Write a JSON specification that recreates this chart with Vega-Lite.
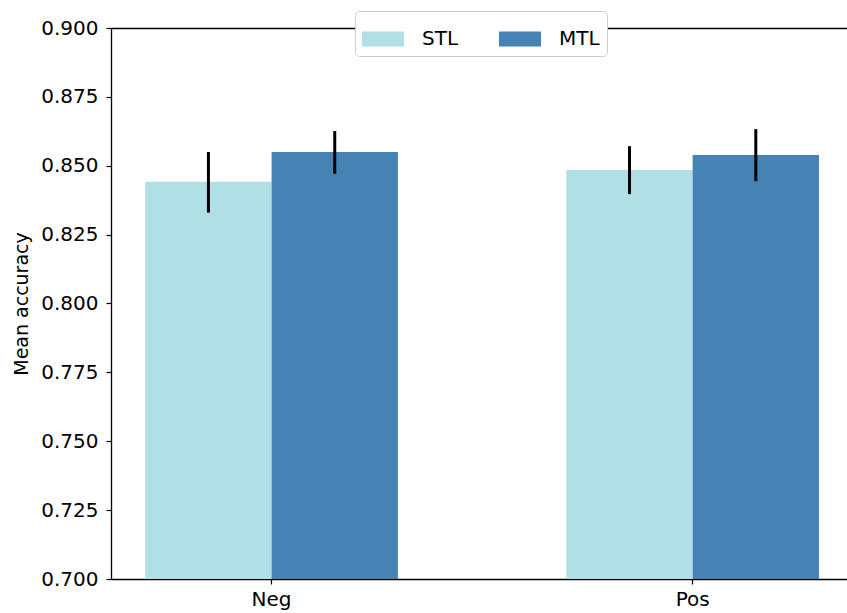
{
  "$schema": "https://vega.github.io/schema/vega-lite/v6.json",
  "width": 736,
  "height": 551,
  "autosize": {"type": "none"},
  "padding": {"left": 111, "top": 28, "right": 0, "bottom": 34},
  "background": "white",
  "config": {
    "view": {"stroke": null},
    "font": "DejaVu Sans",
    "axis": {
      "labelFont": "DejaVu Sans",
      "labelFontSize": 20,
      "labelColor": "black",
      "titleFont": "DejaVu Sans",
      "titleFontSize": 19,
      "titleFontWeight": "normal",
      "titleColor": "black",
      "domainColor": "black",
      "domainWidth": 1.3,
      "tickColor": "black",
      "tickWidth": 1.2,
      "tickSize": 5,
      "grid": false
    }
  },
  "data": {
    "values": [
      {"group": "Neg", "series": "STL", "mean": 0.8442, "lo": 0.8330, "hi": 0.8550},
      {"group": "Neg", "series": "MTL", "mean": 0.8550, "lo": 0.8471, "hi": 0.8626},
      {"group": "Pos", "series": "STL", "mean": 0.8485, "lo": 0.8397, "hi": 0.8571},
      {"group": "Pos", "series": "MTL", "mean": 0.8539, "lo": 0.8444, "hi": 0.8633}
    ]
  },
  "layer": [
    {
      "mark": {"type": "bar", "clip": true},
      "encoding": {
        "x": {
          "field": "group", "type": "nominal", "sort": ["Neg", "Pos"],
          "scale": {"paddingInner": 0.4, "paddingOuter": 0.074, "align": 0.55},
          "axis": {"title": null, "labelAngle": 0, "labelPadding": 5, "orient": "bottom"}
        },
        "xOffset": {
          "field": "series", "type": "nominal", "sort": ["STL", "MTL"],
          "scale": {"paddingInner": 0, "paddingOuter": 0}
        },
        "y": {
          "field": "mean", "type": "quantitative",
          "scale": {"domain": [0.7, 0.9], "zero": false, "nice": false},
          "axis": {"title": "Mean accuracy", "format": ".3f", "values": [0.7, 0.725, 0.75, 0.775, 0.8, 0.825, 0.85, 0.875, 0.9], "labelPadding": 8, "titlePadding": 9}
        },
        "y2": {"datum": 0.7},
        "color": {
          "field": "series", "type": "nominal", "sort": ["STL", "MTL"],
          "scale": {"domain": ["STL", "MTL"], "range": ["#B0E0E6", "#4682B4"]},
          "legend": {
            "title": null,
            "orient": "none",
            "legendX": 244,
            "legendY": -17,
            "direction": "horizontal",
            "symbolType": "M-1,-0.36H1V0.36H-1Z",
            "symbolSize": 1764,
            "symbolStrokeWidth": 0,
            "symbolOpacity": 1,
            "labelFontSize": 20,
            "labelFont": "DejaVu Sans",
            "labelColor": "black",
            "labelOffset": 18,
            "columnPadding": 40,
            "padding": 7,
            "strokeColor": "#cccccc",
            "fillColor": "white",
            "cornerRadius": 4
          }
        }
      }
    },
    {
      "mark": {"type": "rule", "color": "black", "strokeWidth": 3},
      "encoding": {
        "x": {
          "field": "group", "type": "nominal", "sort": ["Neg", "Pos"],
          "axis": {"orient": "top", "labels": false, "ticks": false, "title": null, "domain": true}
        },
        "xOffset": {"field": "series", "type": "nominal", "sort": ["STL", "MTL"]},
        "y": {"field": "lo", "type": "quantitative", "axis": null},
        "y2": {"field": "hi"}
      }
    }
  ],
  "resolve": {"axis": {"x": "independent", "y": "independent"}}
}
